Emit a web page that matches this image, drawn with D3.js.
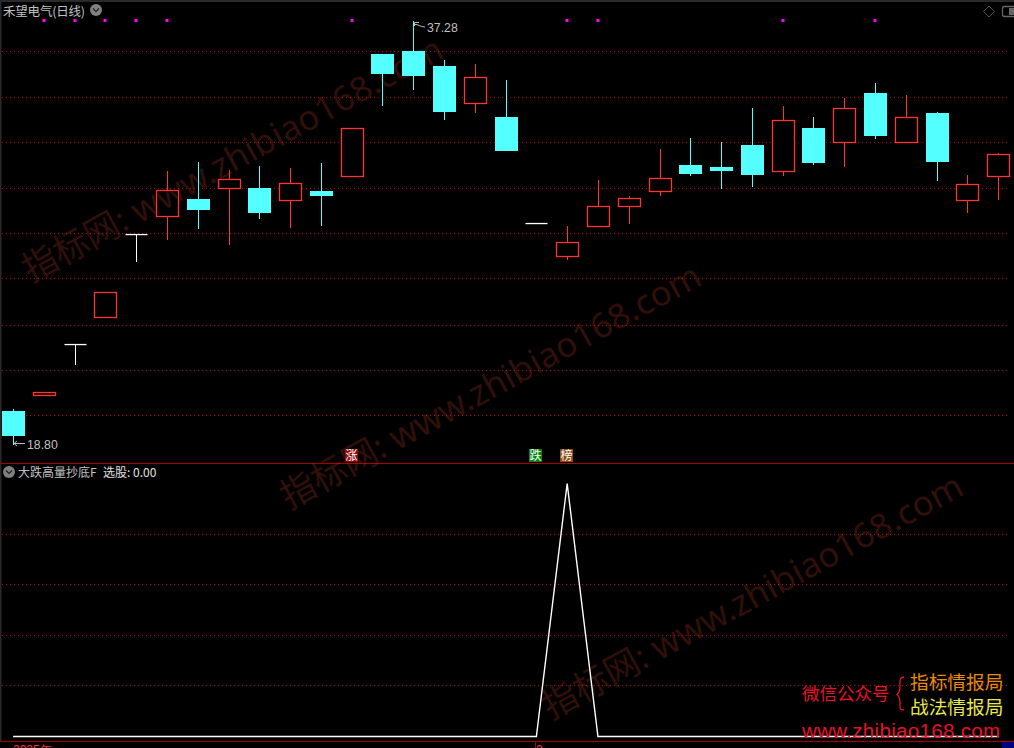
<!DOCTYPE html>
<html><head><meta charset="utf-8">
<script src="https://cdn.jsdelivr.net/npm/d3@7/dist/d3.min.js"></script>
<style>html,body{margin:0;padding:0;background:#000;overflow:hidden}svg{display:block}</style>
</head><body><svg id="c" width="1014" height="748"></svg>
<script>
const opens =[20.28,20.95,23.19,24.36,28.00,28.75,29.52,29.97,30.00,29.49,29.87,30.49,35.84,35.97,35.32,33.68,33.10,28.46,27.01,28.31,29.19,29.84,31.00,30.92,31.88,30.71,32.62,31.98,34.14,31.98,33.27,29.45,30.49];
const closes=[19.19,21.10,23.19,25.45,28.00,29.90,29.04,30.38,28.91,30.21,29.65,32.60,34.97,34.88,33.31,34.83,31.61,28.46,27.63,29.20,29.55,30.42,30.61,30.74,30.57,32.95,31.09,33.47,32.27,33.08,31.13,30.16,31.47];
const highs =[20.36,21.10,23.19,25.45,28.00,30.74,31.12,30.79,30.96,30.87,31.09,32.60,35.84,37.28,35.58,35.41,34.71,28.46,28.35,30.35,29.65,31.70,32.18,32.01,33.49,33.58,33.10,33.92,34.58,34.05,33.31,30.57,31.53];
const lows  =[18.80,20.95,22.30,24.36,26.78,27.75,28.21,27.52,28.65,28.26,28.35,30.49,33.58,34.27,32.97,33.27,31.61,28.46,26.86,28.31,28.43,29.65,30.52,29.96,30.04,30.52,31.00,30.92,32.14,31.98,30.31,28.91,29.48];
const signal=[0,0,0,0,0,0,0,0,0,0,0,0,0,0,0,0,0,0,1,0,0,0,0,0,0,0,0,0,0,0,0,0,0];
const markerIdx=[1,2,3,4,5,11,18,19,25,28];
const badges=[{i:11,t:"涨",c:"#8c0a0a"},{i:17,t:"跌",c:"#0a820a"},{i:18,t:"榜",c:"#8a4c10"}];
const priceGrid=[35.96,33.95,31.99,29.99,28.01,26.04,24.03,22.05,20.08];
const subGrid=[0.2,0.4,0.6,0.8];
const hiLabel="37.28", loLabel="18.80";
const wmText="指标网: www.zhibiao168.com";
const wmAnchors=[[31,283],[289,510],[551,720]];

const RED="#ff3333",CY="#54ffff",GRID="#c00000",SEP="#a80000",GREY="#c0c0c0";
const svg=d3.select("#c");
svg.append("rect").attr("width",1014).attr("height",748).attr("fill","#000");
const x=d3.scalePoint().domain(d3.range(opens.length)).range([13.1,998.1]);
const y=d3.scaleLinear().domain([18.80,37.28]).range([445,21]);
const ys=d3.scaleLinear().domain([0,1]).range([736.5,483.5]);
const px=i=>Math.round(x(i));

// frame
svg.append("rect").attr("x",0).attr("y",0).attr("width",1014).attr("height",2).attr("fill","#2a2a2a");
svg.append("rect").attr("x",0).attr("y",0).attr("width",1.5).attr("height",741).attr("fill","#2a2a2a");
[[463],[741]].forEach(d=>svg.append("rect").attr("x",0).attr("y",d[0]).attr("width",1014).attr("height",1).attr("fill",SEP));

// grids through axes
function grid(scale,vals){
  const g=svg.append("g").attr("transform","translate(2,0)")
   .call(d3.axisRight(scale).tickValues(vals).tickSize(1008).tickFormat("").offset(0));
  g.select(".domain").remove();
  g.selectAll("line").attr("stroke",GRID).attr("stroke-dasharray","1,3").attr("shape-rendering","crispEdges");
}
grid(y,priceGrid);grid(ys,subGrid);

// candles
const gc=svg.append("g");
opens.forEach((o,i)=>{
  const c=closes[i],cx=px(i)+0.5;
  const col=c===o?"#fff":(c>o?RED:CY);
  gc.append("line").attr("x1",cx).attr("x2",cx).attr("y1",y(highs[i])).attr("y2",y(lows[i])).attr("stroke",col).attr("stroke-width",1.1).attr("shape-rendering","crispEdges");
  if(c===o){
    gc.append("rect").attr("x",cx-11).attr("width",22).attr("y",Math.round(y(o))-0.1).attr("height",1.3).attr("fill",col);
  } else if(c>o){
    gc.append("rect").attr("x",cx-11).attr("width",22).attr("y",Math.round(y(c))+.5).attr("height",Math.round(y(o)-y(c)))
      .attr("fill","#000").attr("stroke",col).attr("stroke-width",1.3);
  } else {
    gc.append("rect").attr("x",cx-11.5).attr("width",23).attr("y",Math.round(y(o))).attr("height",Math.round(y(c)-y(o))).attr("fill",col);
  }
});

// magenta markers
svg.append("g").selectAll("rect").data(markerIdx).join("rect")
  .attr("x",d=>px(d)-1.5).attr("y",19).attr("width",3).attr("height",3).attr("fill","#ff00ff");

// badges
const gb=svg.append("g").selectAll("g").data(badges).join("g").attr("transform",d=>`translate(${px(d.i)-7},449)`);
gb.append("rect").attr("width",13).attr("height",13).attr("fill",d=>d.c);
gb.append("text").attr("x",6.5).attr("y",11).attr("text-anchor","middle").attr("fill","#fff")
  .attr("font-family","'Noto Sans CJK SC'").attr("font-size",12).text(d=>d.t);

// signal line
svg.append("path").datum(signal).attr("fill","none").attr("stroke","#fff").attr("stroke-width",1.4)
  .attr("d",d3.line().x((d,i)=>x(i)).y(d=>ys(d)));

// high / low annotations
const ann=svg.append("g").attr("stroke",GREY).attr("fill","none");
ann.append("path").attr("d",`M414.5 26 V22.5 H419 M415 24.5 C418 24,420 27,425 27`);
ann.append("path").attr("d",`M14 443.5 H25 M14 443.5 L17 441 M14 443.5 L17 446`);
const T=(s,xx,yy,fs,fam,col)=>svg.append("text").attr("x",xx).attr("y",yy).attr("font-size",fs).attr("font-family",fam).attr("fill",col).text(s);
const SANS="'Liberation Sans'",CJK="'Noto Sans CJK SC'";
T(hiLabel,427,32,12.3,SANS,GREY);
T(loLabel,27,449,12.3,SANS,GREY);

// titles
T("禾望电气(日线)",3,16,12.5,CJK,GREY).attr("textLength",82);
T("大跌高量抄底F",18,477,12,CJK,GREY);
T("选股: 0.00",103,477,12,CJK,"#e0e0e0");
function chev(cx,cy){
  svg.append("circle").attr("cx",cx).attr("cy",cy).attr("r",6).attr("fill","#808080");
  svg.append("path").attr("d",`M${cx-3} ${cy-1.5} L${cx} ${cy+1.5} L${cx+3} ${cy-1.5}`).attr("fill","none").attr("stroke","#222").attr("stroke-width",1.2);
}
chev(96,10);chev(9,472);
svg.append("path").attr("d","M989 6 L994.5 11.5 L989 17 L983.5 11.5 Z").attr("fill","none").attr("stroke","#555");
svg.append("rect").attr("x",1002.5).attr("y",6.5).attr("width",14).attr("height",10).attr("rx",2).attr("fill","none").attr("stroke","#666").attr("stroke-width",1.3);
svg.append("rect").attr("x",1009).attr("y",8).attr("width",5).attr("height",7).attr("fill","#666");

// date axis stub
T("2025年",13,754,12,SANS,"#ff3333");
T("2",536,754,12,SANS,"#ff3333");
svg.append("rect").attr("x",535).attr("y",741).attr("width",1).attr("height",7).attr("fill",SEP);
svg.append("rect").attr("x",1002).attr("y",742).attr("width",12).attr("height",6).attr("fill","#000080");

// logo
T("微信公众号",802,700,17.5,CJK,"#e8112a");
T("指标情报局",910,689,18.7,CJK,"#e88a0a");
T("战法情报局",910,714,18.7,CJK,"#e8e850");
T("www.zhibiao168.com",802,738,20.5,SANS,"#e8112a").attr("textLength",198);
svg.append("path").attr("d","M904 677 C899 677,900 681,900 686 C900 691,899 693,897 694.5 C899 696,900 698,900 703 C900 708,899 710,904 710")
  .attr("fill","none").attr("stroke","#e8112a").attr("stroke-width",1.3);

// watermark
const wm=svg.append("g").style("mix-blend-mode","lighten");
wmAnchors.forEach(a=>{
  wm.append("text").attr("transform",`translate(${a[0]},${a[1]}) rotate(-28.6)`)
    .attr("font-family","'Noto Sans','Noto Sans CJK SC'").attr("font-size",35).attr("fill","#33100a").text(wmText);
});
</script></body></html>
